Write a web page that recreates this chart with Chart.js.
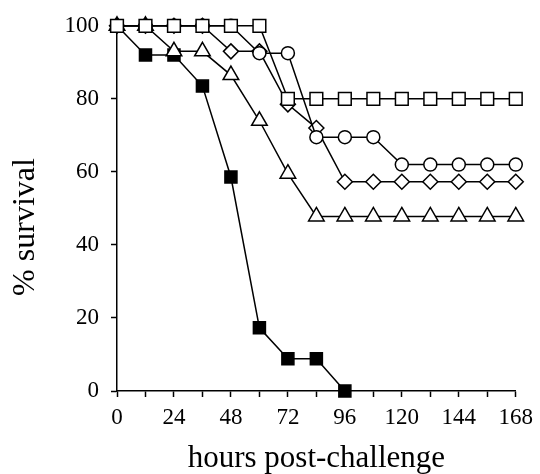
<!DOCTYPE html>
<html>
<head>
<meta charset="utf-8">
<script src="https://cdn.jsdelivr.net/npm/chart.js@4.4.1/dist/chart.umd.min.js"></script>
<style>
  html, body { margin: 0; padding: 0; background: #fff; }
  #wrap { width: 540px; height: 474px; }
</style>
</head>
<body>
<div id="wrap"><canvas id="graph-box" width="540" height="474"></canvas></div>
<script>
// hours post-challenge, one reading every 12 h
const hours = [0, 12, 24, 36, 48, 60, 72, 84, 96, 108, 120, 132, 144, 156, 168];
const xTickLabels = [0, 24, 48, 72, 96, 120, 144, 168];
const yTickLabels = [0, 20, 40, 60, 80, 100];

// % survival for each group
const openSquares   = [100, 100, 100, 100, 100, 100, 80, 80, 80, 80, 80, 80, 80, 80, 80];
const circles       = [100, 100, 100, 100, 100, 92.5, 92.5, 69.5, 69.5, 69.5, 62, 62, 62, 62, 62];
const diamonds      = [100, 100, 100, 100, 93, 93, 78.5, 72, 57.3, 57.3, 57.3, 57.3, 57.3, 57.3, 57.3];
const triangles     = [100, 100, 93, 93, 86.5, 74, 59.5, 47.8, 47.8, 47.8, 47.8, 47.8, 47.8, 47.8, 47.8];
const filledSquares = [100, 92, 92, 83.5, 58.6, 17.3, 8.8, 8.8, 0];

const serif = '"Liberation Serif", "Times New Roman", serif';

const pts = vals => vals.map((v, i) => ({ x: hours[i], y: v }));

function series(vals, style, radius, fill) {
  return {
    data: pts(vals),
    borderColor: '#000',
    borderWidth: 1.5,
    pointStyle: style,
    pointRadius: radius,
    pointBackgroundColor: fill,
    pointBorderColor: '#000',
    pointBorderWidth: 1.5,
    tension: 0,
    clip: false
  };
}

// y title sits a bit below the middle of the axis in the original, so draw it by hand
const yTitle = {
  id: 'yTitle',
  afterDraw(chart) {
    const c = chart.ctx;
    c.save();
    c.translate(26, 227);
    c.rotate(-Math.PI / 2);
    c.font = '32px ' + serif;
    c.fillStyle = '#000';
    c.textAlign = 'center';
    c.textBaseline = 'middle';
    c.fillText('% survival', 0, 0);
    c.restore();
  }
};

const ctx = document.getElementById('graph-box');
new Chart(ctx, {
  type: 'line',
  data: {
    datasets: [
      series(openSquares, 'rect', 9, '#fff'),
      series(circles, 'circle', 6.5, '#fff'),
      series(diamonds, 'rectRot', 7.5, '#fff'),
      series(triangles, 'triangle', 9, '#fff'),
      series(filledSquares, 'rect', 8.5, '#000')
    ]
  },
  options: {
    responsive: false,
    animation: false,
    devicePixelRatio: 1,
    layout: { padding: { top: 22, right: 18, left: 0, bottom: 0 } },
    plugins: { legend: { display: false }, tooltip: { enabled: false } },
    scales: {
      x: {
        type: 'linear',
        min: 0,
        max: 168,
        afterFit: s => { s.height = 83; },
        afterBuildTicks: s => { s.ticks = hours.map(h => ({ value: h })); },
        border: { color: '#000', width: 1.5 },
        grid: { drawOnChartArea: false, color: '#000', tickLength: 6, tickWidth: 1.5 },
        ticks: {
          color: '#000',
          font: { family: serif, size: 23 },
          padding: 7,
          maxRotation: 0,
          autoSkip: false,
          callback: v => xTickLabels.includes(v) ? String(v) : ''
        },
        title: {
          display: true,
          text: 'hours post-challenge',
          color: '#000',
          font: { family: serif, size: 31, lineHeight: 1 },
          padding: 0
        }
      },
      y: {
        min: 0,
        max: 100,
        afterFit: s => { s.width = 117; },
        afterBuildTicks: s => { s.ticks = yTickLabels.map(v => ({ value: v })); },
        border: { color: '#000', width: 1.5 },
        grid: { drawOnChartArea: false, color: '#000', tickLength: 6, tickWidth: 1.5 },
        ticks: {
          color: '#000',
          font: { family: serif, size: 23 },
          padding: 12
        }
      }
    }
  },
  plugins: [yTitle]
});
</script>
</body>
</html>
